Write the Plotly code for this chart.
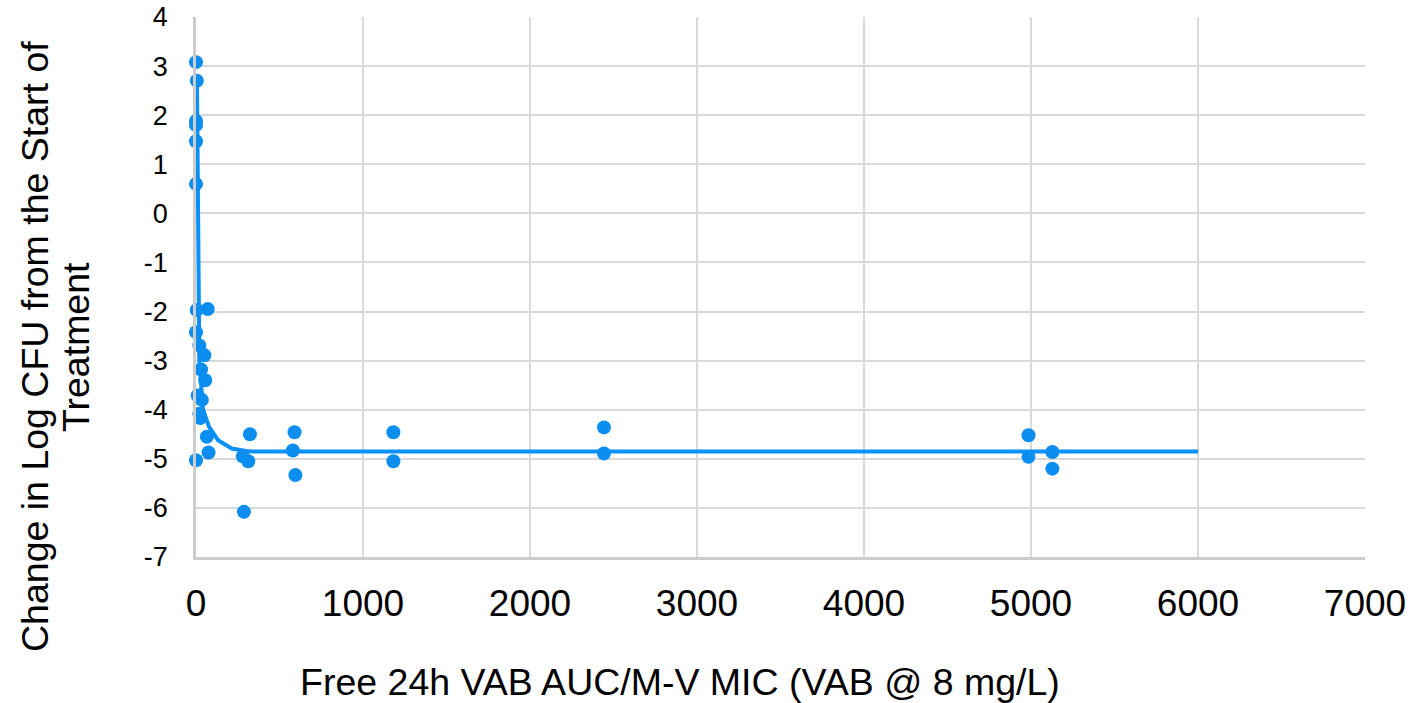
import plotly.graph_objects as go

# Observed data points (free 24h VAB AUC/MIC, change in log CFU)
obs_x = [0, 5, 0, 0, 0, 0, 4, 70, 0, 20, 50, 30, 55, 10, 35, 20, 25, 65, 75, 0,
         323, 313, 280, 287, 590, 580, 595, 1182, 1182, 2443, 2443, 4985, 4985, 5128, 5128]
obs_y = [3.08, 2.70, 1.88, 1.80, 1.47, 0.60, -1.97, -1.95, -2.42, -2.69, -2.89, -3.18, -3.40,
         -3.71, -3.80, -4.08, -4.17, -4.55, -4.87, -5.03,
         -4.50, -5.05, -4.95, -6.08, -4.46, -4.83, -5.33, -4.46, -5.05, -4.36, -4.89,
         -4.52, -4.96, -4.86, -5.20]

# Fitted curve
fit_x = [6, 8, 10, 11, 13, 20, 42, 78, 132, 214, 300, 340, 6000]
fit_y = [2.6, 1.5, 0.0, -1.0, -2.0, -3.0, -4.0, -4.35, -4.62, -4.79, -4.84, -4.85, -4.85]

x_ticks = [0, 1000, 2000, 3000, 4000, 5000, 6000, 7000]
y_ticks = [4, 3, 2, 1, 0, -1, -2, -3, -4, -5, -6, -7]

BLUE = "#0C8EF0"
GRID = "#d9d9d9"
FONT = "Liberation Sans, Arial, sans-serif"

fig = go.Figure()
fig.add_trace(go.Scatter(x=fit_x, y=fit_y, mode="lines",
                         line=dict(color="#0A90FA", width=4),
                         hoverinfo="skip", showlegend=False, cliponaxis=False))
fig.add_trace(go.Scatter(x=obs_x, y=obs_y, mode="markers",
                         marker=dict(color=BLUE, size=14),
                         showlegend=False, cliponaxis=False))

L, R, T, B = 196, 47, 17, 146
W, H = 1412, 703

fig.update_layout(
    width=W, height=H,
    margin=dict(l=L, r=R, t=T, b=B, autoexpand=False),
    paper_bgcolor="white", plot_bgcolor="white",
    font=dict(family=FONT, color="black"),
    xaxis=dict(range=[0, 7000], tickvals=x_ticks, ticktext=[str(v) for v in x_ticks],
               showgrid=True, gridcolor=GRID, gridwidth=2,
               showline=True, linecolor="#cccccc", linewidth=2.5,
               zeroline=False, ticks="", tickfont=dict(size=37, family=FONT),
               ticklabelstandoff=12, automargin=False),
    yaxis=dict(range=[-7, 4], tickvals=y_ticks, ticktext=[str(v) for v in y_ticks],
               showgrid=True, gridcolor=GRID, gridwidth=2,
               showline=True, linecolor="#cccccc", linewidth=2.5,
               zeroline=False, ticks="", tickfont=dict(size=27, family=FONT),
               ticklabelstandoff=20, automargin=False),
)

pw = W - L - R
ph = H - T - B

def px_x(p):
    return (p - L) / pw

def px_y(p):
    return 1 - (p - T) / ph

fig.add_annotation(text="Free 24h VAB AUC/M-V MIC (VAB @ 8 mg/L)",
                   xref="paper", yref="paper", x=px_x(680), y=px_y(682),
                   xanchor="center", yanchor="middle", showarrow=False,
                   font=dict(size=37.5, family=FONT, color="black"))
fig.add_annotation(text="Change in Log CFU from the Start of",
                   xref="paper", yref="paper", x=px_x(35), y=px_y(347),
                   xanchor="center", yanchor="middle", showarrow=False, textangle=-90,
                   font=dict(size=37.5, family=FONT, color="black"))
fig.add_annotation(text="Treatment",
                   xref="paper", yref="paper", x=px_x(76), y=px_y(347),
                   xanchor="center", yanchor="middle", showarrow=False, textangle=-90,
                   font=dict(size=37.5, family=FONT, color="black"))

fig.write_html("out.html")
